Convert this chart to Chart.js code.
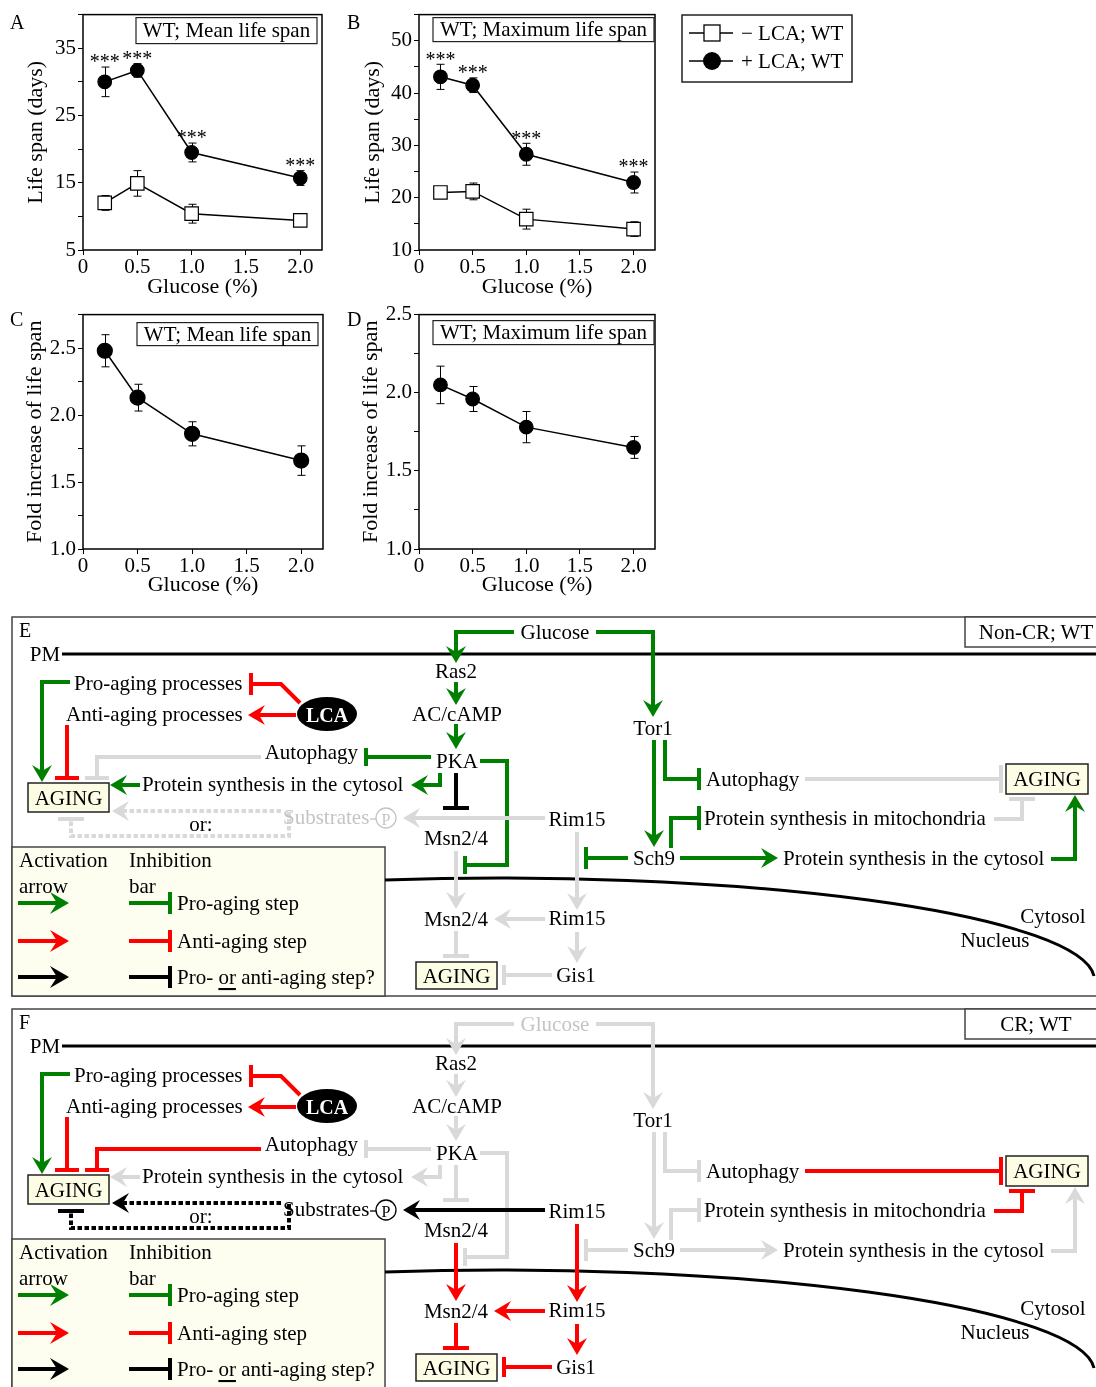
<!DOCTYPE html>
<html><head><meta charset="utf-8">
<script src="https://cdn.jsdelivr.net/npm/chart.js@4.4.0/dist/chart.umd.min.js"></script>
<style>
body{margin:0;background:#fff;}
#wrap{position:relative;width:1096px;height:1387px;overflow:hidden;background:#fff;font-family:'Liberation Serif',serif;}
canvas{position:absolute;}
#svg{position:absolute;left:0;top:0;}
</style></head><body><div id="wrap">
<canvas id="cA" width="340" height="300" style="left:0;top:0;width:340px;height:300px"></canvas>
<canvas id="cB" width="340" height="300" style="left:340px;top:0;width:340px;height:300px"></canvas>
<canvas id="cC" width="340" height="300" style="left:0;top:300px;width:340px;height:300px"></canvas>
<canvas id="cD" width="340" height="300" style="left:340px;top:300px;width:340px;height:300px"></canvas>
<svg id="svg" width="1096" height="1387" xmlns="http://www.w3.org/2000/svg"></svg>
</div>
<script>
// ---------------- DATA ----------------
const glucose = [0.2, 0.5, 1.0, 2.0];
const xTickValues = [0, 0.5, 1.0, 1.5, 2.0];

const meanNoLCA    = [12.0, 14.9, 10.4, 9.4];
const meanNoLCAErr = [1.1, 1.9, 1.4, 0.8];
const meanLCA      = [30.0, 31.7, 19.5, 15.7];
const meanLCAErr   = [2.2, 1.0, 1.4, 1.1];
const meanStars    = ['***', '***', '***', '***'];

const maxNoLCA     = [21.0, 21.2, 15.9, 14.0];
const maxNoLCAErr  = [0.5, 1.6, 1.9, 1.4];
const maxLCA       = [43.1, 41.5, 28.3, 22.9];
const maxLCAErr    = [2.4, 1.4, 2.1, 2.0];
const maxStars     = ['***', '***', '***', '***'];

const foldMean     = [2.48, 2.13, 1.86, 1.66];
const foldMeanErr  = [0.12, 0.10, 0.09, 0.11];
const foldMax      = [2.05, 1.96, 1.78, 1.65];
const foldMaxErr   = [0.12, 0.08, 0.10, 0.07];

const yTicksA = [5, 10, 15, 20, 25, 30, 35, 40];
const yLabelsA = [5, 15, 25, 35];
const yTicksB = [10, 15, 20, 25, 30, 35, 40, 45, 50, 55];
const yLabelsB = [10, 20, 30, 40, 50];
const yTicksC = [1.0, 1.25, 1.5, 1.75, 2.0, 2.25, 2.5, 2.75];
const yLabelsC = [1.0, 1.5, 2.0, 2.5];
const yTicksD = [1.0, 1.25, 1.5, 1.75, 2.0, 2.25, 2.5];
const yLabelsD = [1.0, 1.5, 2.0, 2.5];

const seriesNames = ['\u2212 LCA; WT', '+ LCA; WT'];

// ---------------- CHARTS ----------------
const FONT = "'Liberation Serif', 'Times New Roman', serif";

const deco = {
  id: 'deco',
  beforeDatasetsDraw(chart) {
    const {ctx, scales: {x, y}} = chart;
    ctx.save();
    ctx.strokeStyle = '#000'; ctx.lineWidth = 1;
    chart.data.datasets.forEach(ds => {
      if (!ds.err) return;
      ds.data.forEach((p, i) => {
        const px = Math.round(x.getPixelForValue(p.x)) + 0.5;
        const t = y.getPixelForValue(p.y + ds.err[i]);
        const b = y.getPixelForValue(p.y - ds.err[i]);
        ctx.beginPath();
        ctx.moveTo(px, t); ctx.lineTo(px, b);
        ctx.moveTo(px - 4, t); ctx.lineTo(px + 4, t);
        ctx.moveTo(px - 4, b); ctx.lineTo(px + 4, b);
        ctx.stroke();
      });
    });
    ctx.restore();
  },
  afterDraw(chart, args, opts) {
    const {ctx, chartArea: a, scales: {x, y}} = chart;
    ctx.save();
    ctx.strokeStyle = '#000'; ctx.lineWidth = 1.5;
    ctx.strokeRect(a.left, a.top, a.right - a.left, a.bottom - a.top);
    // label box
    const bx2 = a.right - opts.gapR, bx1 = bx2 - opts.boxW;
    const by1 = a.top + opts.gapT, by2 = by1 + opts.boxH;
    ctx.fillStyle = '#fff';
    ctx.fillRect(bx1, by1, opts.boxW, opts.boxH);
    ctx.lineWidth = 1.2; ctx.strokeStyle = '#222';
    ctx.strokeRect(bx1, by1, opts.boxW, opts.boxH);
    ctx.fillStyle = '#000';
    ctx.font = '21px ' + FONT;
    ctx.textAlign = 'center'; ctx.textBaseline = 'middle';
    ctx.fillText(opts.label, (bx1 + bx2) / 2, (by1 + by2) / 2 + 1);
    // stars
    ctx.font = '20px ' + FONT;
    chart.data.datasets.forEach(ds => {
      if (!ds.stars) return;
      ds.data.forEach((p, i) => {
        const px = x.getPixelForValue(p.x);
        const t = y.getPixelForValue(p.y + ds.err[i]);
        ctx.fillText(ds.stars[i], px, t - 4);
      });
    });
    ctx.restore();
  }
};

function near(v, arr) { return arr.some(a => Math.abs(a - v) < 1e-6); }

function buildChart(cfg) {
  const cv = document.getElementById(cfg.id);
  const W = cv.width, H = cv.height, A = cfg.area;
  const datasets = cfg.series.map(s => ({
    label: s.name,
    data: glucose.map((g, i) => ({x: g, y: s.values[i]})),
    err: s.err, stars: s.stars || null,
    borderColor: '#000', borderWidth: 1.5, tension: 0, fill: false,
    pointStyle: s.filled ? 'circle' : 'rect',
    pointRadius: s.r, pointHoverRadius: s.r,
    pointBackgroundColor: s.filled ? '#000' : '#fff',
    pointBorderColor: '#000', pointBorderWidth: 1.2, clip: false
  }));
  return new Chart(cv.getContext('2d'), {
    type: 'line',
    data: {datasets},
    options: {
      responsive: false, animation: false, devicePixelRatio: 1,
      layout: {padding: {left: 0, top: A.top, right: W - A.right, bottom: 0}},
      plugins: {legend: {display: false}, tooltip: {enabled: false},
        deco: cfg.box},
      scales: {
        x: {
          type: 'linear', min: 0, max: 2.2,
          afterBuildTicks: s => { s.ticks = xTickValues.map(v => ({value: v})); },
          afterFit: s => { s.height = H - A.bottom; },
          ticks: {callback: v => v === 0 ? '0' : v.toFixed(1), color: '#000',
            font: {family: FONT, size: 21}, padding: 0, maxRotation: 0, autoSkip: false},
          grid: {drawOnChartArea: false, drawTicks: true, tickLength: 5, color: '#000', tickColor: '#000', tickWidth: 1},
          border: {display: false},
          title: {display: true, text: 'Glucose (%)', color: '#000',
            font: {family: FONT, size: 22}, padding: {top: 0, bottom: cfg.xPad}}
        },
        y: {
          type: 'linear', min: cfg.yMin, max: cfg.yMax,
          afterBuildTicks: s => { s.ticks = cfg.yTicks.map(v => ({value: v})); },
          afterFit: s => { s.width = A.left; },
          ticks: {callback: v => near(v, cfg.yLabels) ? cfg.fmt(v) : '', color: '#000',
            font: {family: FONT, size: 21}, padding: 2, autoSkip: false},
          grid: {drawOnChartArea: false, drawTicks: true, tickLength: 5, color: '#000', tickColor: '#000', tickWidth: 1},
          border: {display: false},
          title: {display: true, text: cfg.yTitle, color: '#000',
            font: {family: FONT, size: 22}, padding: {top: cfg.yPad, bottom: 0}}
        }
      }
    },
    plugins: [deco]
  });
}

const fmtInt = v => String(Math.round(v));
const fmt1 = v => v.toFixed(1);

buildChart({id: 'cA', area: {left: 83, top: 13, right: 322, bottom: 250},
  yMin: 5, yMax: 40, yTicks: yTicksA, yLabels: yLabelsA, fmt: fmtInt,
  yTitle: 'Life span (days)', yPad: 23, xPad: 0,
  box: {label: 'WT; Mean life span', gapR: 5, gapT: 3, boxW: 181, boxH: 26},
  series: [
    {name: seriesNames[0], values: meanNoLCA, err: meanNoLCAErr, filled: false, r: 9.5},
    {name: seriesNames[1], values: meanLCA, err: meanLCAErr, filled: true, r: 6.8, stars: meanStars}
  ]});
buildChart({id: 'cB', area: {left: 79, top: 14, right: 315, bottom: 250},
  yMin: 10, yMax: 55, yTicks: yTicksB, yLabels: yLabelsB, fmt: fmtInt,
  yTitle: 'Life span (days)', yPad: 20, xPad: 0,
  box: {label: 'WT; Maximum life span', gapR: 1, gapT: 3, boxW: 221, boxH: 24},
  series: [
    {name: seriesNames[0], values: maxNoLCA, err: maxNoLCAErr, filled: false, r: 9.5},
    {name: seriesNames[1], values: maxLCA, err: maxLCAErr, filled: true, r: 6.8, stars: maxStars}
  ]});
buildChart({id: 'cC', area: {left: 83, top: 13, right: 323, bottom: 249},
  yMin: 1.0, yMax: 2.75, yTicks: yTicksC, yLabels: yLabelsC, fmt: fmt1,
  yTitle: 'Fold increase of life span', yPad: 22, xPad: 2,
  box: {label: 'WT; Mean life span', gapR: 5, gapT: 8, boxW: 181, boxH: 23},
  series: [
    {name: 'Fold', values: foldMean, err: foldMeanErr, filled: true, r: 7.5}
  ]});
buildChart({id: 'cD', area: {left: 79, top: 12, right: 315, bottom: 249},
  yMin: 1.0, yMax: 2.5, yTicks: yTicksD, yLabels: yLabelsD, fmt: fmt1,
  yTitle: 'Fold increase of life span', yPad: 18, xPad: 2,
  box: {label: 'WT; Maximum life span', gapR: 1, gapT: 6, boxW: 221, boxH: 24},
  series: [
    {name: 'Fold', values: foldMax, err: foldMaxErr, filled: true, r: 6.8}
  ]});

// ---------------- SVG (legend, labels, diagrams) ----------------
const G = '#008000', R = '#ff0000', K = '#000000', Y = '#d9d9d9', TG = '#c4c4c4';
const out = [];
const SF = "Liberation Serif, Times New Roman, serif";
const DS = 21;

function T(x, y, s, o = {}) {
  out.push(`<text x="${x}" y="${y}" font-size="${o.size || DS}" fill="${o.col || '#000'}" text-anchor="${o.a || 'middle'}" dominant-baseline="central" font-weight="${o.bold ? 'bold' : 'normal'}" font-family="${SF}">${s}</text>`);
}
function rect(x, y, w, h, fill, stroke, sw) {
  out.push(`<rect x="${x}" y="${y}" width="${w}" height="${h}" fill="${fill}" stroke="${stroke}" stroke-width="${sw}"/>`);
}
function poly(pts, col, w, dash) {
  out.push(`<polyline points="${pts.map(p => p.join(',')).join(' ')}" fill="none" stroke="${col}" stroke-width="${w}" stroke-linejoin="miter" stroke-linecap="butt"${dash ? ` stroke-dasharray="${dash}"` : ''}/>`);
}
function arrow(pts, col, o = {}) {
  const L = o.L || 17, W = o.W || 10, N = o.N || 6, w = o.w || 4;
  const n = pts.length;
  const [x2, y2] = pts[n - 1], [x1, y1] = pts[n - 2];
  const len = Math.hypot(x2 - x1, y2 - y1);
  const dx = (x2 - x1) / len, dy = (y2 - y1) / len, px = -dy, py = dx;
  const bx = x2 - dx * (L - N), by = y2 - dy * (L - N);
  poly(pts.slice(0, n - 1).concat([[bx, by]]), col, w, o.dash);
  const hp = [[x2, y2], [x2 - dx * L + px * W, y2 - dy * L + py * W], [bx, by], [x2 - dx * L - px * W, y2 - dy * L - py * W]];
  out.push(`<polygon points="${hp.map(p => p.map(v => v.toFixed(1)).join(',')).join(' ')}" fill="${col}"/>`);
}
function bar(pts, col, o = {}) {
  const w = o.w || 4, B = o.B || 12;
  const n = pts.length;
  const [x2, y2] = pts[n - 1], [x1, y1] = pts[n - 2];
  const len = Math.hypot(x2 - x1, y2 - y1);
  const dx = (x2 - x1) / len, dy = (y2 - y1) / len, px = -dy, py = dx;
  poly(pts, col, w, o.dash);
  poly([[x2 + px * B, y2 + py * B], [x2 - px * B, y2 - py * B]], col, o.bw || 4);
}

// top letters
T(10, 22, 'A', {a: 'start', size: 20});
T(347, 22, 'B', {a: 'start', size: 20});
T(10, 319, 'C', {a: 'start', size: 20});
T(347, 319, 'D', {a: 'start', size: 20});

// legend for A/B
rect(682, 15, 170, 67, '#fff', '#222', 1.5);
poly([[689, 33], [733, 33]], '#000', 1.5);
rect(704, 25, 16, 16, '#fff', '#000', 1.3);
T(741, 33, seriesNames[0], {a: 'start', size: 21});
poly([[689, 61], [733, 61]], '#000', 1.5);
out.push(`<circle cx="712" cy="61" r="9" fill="#000"/>`);
T(741, 61, seriesNames[1], {a: 'start', size: 21});

function diagram(oy, cr) {
  const c = (e, f) => cr ? f : e;
  const P = pts => pts.map(([a, b]) => [a, b + oy]);
  const y = v => v + oy;
  // outer and legend boxes
  rect(12, y(617), 1090, cr ? 400 : 379, '#fff', '#444', 1.5);
  rect(965, y(617), 135, 30, '#fff', '#444', 1.5);
  T(1036, y(632), cr ? 'CR; WT' : 'Non-CR; WT');
  rect(12, y(847), 373, cr ? 160 : 149, '#fdfdf0', '#444', 1.5);
  T(19, y(630), cr ? 'F' : 'E', {a: 'start', size: 20});
  // membranes
  T(45, y(654), 'PM');
  poly(P([[62, 654], [1100, 654]]), '#000', 3);
  out.push(`<path d="M 385 ${y(880)} A 595 102 0 0 1 1094 ${y(976)}" fill="none" stroke="#000" stroke-width="3"/>`);
  T(1053, y(916), 'Cytosol');
  T(995, y(940), 'Nucleus');

  // ----- pathway lines -----
  arrow(P([[514, 632], [456, 632], [456, 663]]), c(G, Y));
  arrow(P([[596, 632], [653, 632], [653, 717]]), c(G, Y));
  arrow(P([[456, 682], [456, 705]]), c(G, Y));
  arrow(P([[456, 724], [456, 749]]), c(G, Y));
  bar(P([[431, 757], [366, 757]]), c(G, Y), {B: 9});
  arrow(P([[440, 773], [440, 785], [411, 785]]), c(G, Y));
  bar(P([[456, 773], [456, 808]]), c(K, Y), {B: 13});
  bar(P([[480, 761], [507, 761], [507, 865], [465, 865]]), c(G, Y), {B: 9});
  arrow(P([[545, 818], [403, 818]]), c(Y, K));
  arrow(P([[456, 851], [456, 909]]), c(Y, R));
  arrow(P([[545, 919], [494, 919]]), c(Y, R));
  bar(P([[456, 931], [456, 956]]), c(Y, R), {B: 13});
  bar(P([[552, 975], [504, 975]]), c(Y, R), {B: 10});
  arrow(P([[577, 832], [577, 910]]), c(Y, R));
  arrow(P([[577, 932], [577, 963]]), c(Y, R));
  // Tor1 branch
  bar(P([[665, 740], [665, 779], [699, 779]]), c(G, Y), {B: 11});
  arrow(P([[654, 740], [654, 847]]), c(G, Y));
  bar(P([[671, 848], [671, 818], [699, 818]]), c(G, Y), {B: 12});
  bar(P([[628, 858], [586, 858]]), c(G, Y), {B: 11});
  arrow(P([[680, 858], [778, 858]]), c(G, Y));
  arrow(P([[1051, 859], [1075, 859], [1075, 795]]), c(G, Y));
  bar(P([[805, 779], [1001, 779]]), c(Y, R), {B: 14});
  bar(P([[994, 819], [1022, 819], [1022, 799]]), c(Y, R), {B: 13});
  // left side
  arrow(P([[70, 682], [42, 682], [42, 782]]), G);
  bar(P([[300, 703], [281, 684], [251, 684]]), R, {B: 11});
  arrow(P([[296, 715], [248, 715]]), R);
  bar(P([[67, 725], [67, 778]]), R, {B: 12});
  bar(P([[261, 757], [97, 757], [97, 778]]), c(Y, R), {B: 12});
  arrow(P([[140, 785], [110, 785]]), c(G, Y));
  arrow(P([[281, 811], [112, 811]]), c(Y, K), {dash: '4.5 2.5'});
  bar(P([[289, 812], [289, 836], [71, 836], [71, 819]]), c(Y, K), {dash: '4.5 2.5', B: 13});

  // ----- nodes -----
  T(555, y(632), 'Glucose', {col: c('#000', TG)});
  T(456, y(671), 'Ras2');
  T(457, y(714), 'AC/cAMP');
  T(457, y(761), 'PKA');
  T(456, y(838), 'Msn2/4');
  T(456, y(919), 'Msn2/4');
  T(577, y(819), 'Rim15');
  T(577, y(918), 'Rim15');
  T(576, y(975), 'Gis1');
  T(653, y(728), 'Tor1');
  T(654, y(858), 'Sch9');
  T(74, y(683), 'Pro-aging processes', {a: 'start'});
  T(66, y(714), 'Anti-aging processes', {a: 'start'});
  T(358, y(752), 'Autophagy', {a: 'end'});
  T(142, y(784), 'Protein synthesis in the cytosol', {a: 'start'});
  T(283, y(817), 'Substrates', {a: 'start', col: c(TG, '#000')});
  poly(P([[370, 819], [376, 819]]), c(TG, '#000'), 1.3);
  out.push(`<circle cx="386" cy="${y(818)}" r="10" fill="#fff" stroke="${c(TG, '#000')}" stroke-width="1.3"/>`);
  T(386, y(819), 'P', {size: 16, col: c(TG, '#000')});
  T(201, y(824), 'or:');
  T(706, y(779), 'Autophagy', {a: 'start'});
  T(704, y(818), 'Protein synthesis in mitochondria', {a: 'start'});
  T(783, y(858), 'Protein synthesis in the cytosol', {a: 'start'});
  // AGING boxes
  rect(28, y(783), 81, 29, '#fdfde6', '#222', 1.5); T(68.5, y(798), 'AGING');
  rect(416, y(962), 81, 27, '#fdfde6', '#222', 1.5); T(456.5, y(976), 'AGING');
  rect(1006, y(764), 82, 30, '#fdfde6', '#222', 1.5); T(1047, y(779), 'AGING');
  // LCA
  out.push(`<ellipse cx="327" cy="${y(714)}" rx="30" ry="17" fill="#000"/>`);
  T(327, y(715), 'LCA', {col: '#fff', bold: true, size: 20});

  // ----- key -----
  T(19, y(860), 'Activation', {a: 'start'});
  T(129, y(860), 'Inhibition', {a: 'start'});
  T(19, y(886), 'arrow', {a: 'start'});
  T(129, y(886), 'bar', {a: 'start'});
  const rows = [[903, G, 'Pro-aging step'], [941, R, 'Anti-aging step'], [977, K, null]];
  rows.forEach(([ry, col, label]) => {
    arrow(P([[18, ry], [69, ry]]), col, {L: 19, W: 11, N: 7});
    bar(P([[129, ry], [170, ry]]), col, {B: 11});
    if (label) T(177, y(ry), label, {a: 'start'});
    else out.push(`<text x="177" y="${y(ry)}" font-size="${DS}" fill="#000" dominant-baseline="central" font-family="${SF}">Pro- <tspan text-decoration="underline">or</tspan> anti-aging step?</text>`);
  });
}
diagram(0, false);
diagram(392, true);

document.getElementById('svg').innerHTML = out.join('');
</script>
</body></html>
